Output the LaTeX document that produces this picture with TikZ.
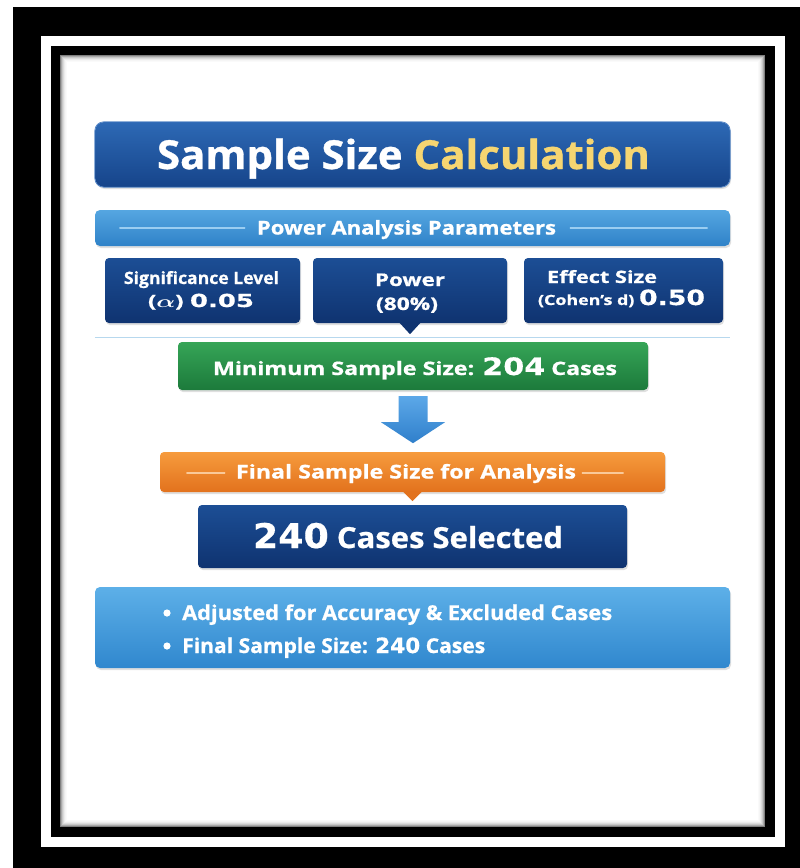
\documentclass[tikz,border=0pt]{standalone}
\usepackage{fontspec}
\setmainfont{Open Sans}[BoldFeatures={FakeBold=0.8}]
\newfontfamily\dv{DejaVu Sans}[BoldFeatures={FakeBold=0.5}]
\usetikzlibrary{calc,shadows}
\definecolor{ttop}{HTML}{2D69B5}
\definecolor{tbot}{HTML}{16448A}
\definecolor{tedge}{HTML}{5586C6}
\definecolor{tyel}{HTML}{F6D571}
\definecolor{htop}{HTML}{55A6E1}
\definecolor{hbot}{HTML}{2F82C8}
\definecolor{hline}{HTML}{9ACDF1}
\definecolor{ntop}{HTML}{1C4E95}
\definecolor{nbot}{HTML}{0F3370}
\definecolor{gtop}{HTML}{36A557}
\definecolor{gbot}{HTML}{1C7A3B}
\definecolor{otop}{HTML}{F69B3D}
\definecolor{obot}{HTML}{E2721D}
\definecolor{oline}{HTML}{FAC999}
\definecolor{atop}{HTML}{5CA8E8}
\definecolor{abot}{HTML}{2F7FCB}
\definecolor{btop}{HTML}{5DB0E8}
\definecolor{bbot}{HTML}{3087CE}
\definecolor{sepc}{HTML}{B7D8EE}
\newcommand\fitto[2]{\resizebox{#1pt}{\height}{#2}}
\newcommand\fs[1]{\fontsize{#1}{#1}\selectfont}
\begin{document}
\begin{tikzpicture}[x=1pt,y=-1pt,
  box/.style={rectangle, inner sep=0pt, rounded corners=#1, draw=none},
  box/.default=5pt,
  sbox/.style={drop shadow={opacity=0.25, shadow xshift=1pt, shadow yshift=-2pt}},
  lbl/.style={inner sep=0pt, anchor=base, text=white, font=\bfseries},
  lblw/.style={inner sep=0pt, anchor=base west, text=white, font=\bfseries},
  navy/.style={top color=ntop, bottom color=nbot},
  hrule/.style={line width=1.2pt, line cap=round}
]
\useasboundingbox (0,0) rectangle (800,868);
% frames
\fill[white] (0,0) rectangle (800,868);
\fill[black] (13,7) rectangle (800,868);
\fill[white] (41,36) rectangle (785,847);
\fill[black] (51,46) rectangle (775,837);
\fill[white] (60,55) rectangle (765,827);
\foreach \i/\c in {0.5/50,1.5/34,2.5/22,3.5/14,4.5/8,5.5/4,6.5/2}{
  \draw[black!\c, line width=1pt] ({60+\i},{55+\i}) rectangle ({765-\i},{827-\i});
}
% title
\node[box=9pt, minimum width=635pt, minimum height=65pt, top color=ttop, bottom color=tbot, sbox] (title) at (412.5,154.5) {};
\draw[tedge, line width=0.8pt, rounded corners=9pt] (title.south west) rectangle (title.north east);
\node[lbl] (ttxt) at (403.5,169) {\fs{40}\fitto{493}{Sample Size \textcolor{tyel}{Calculation}}};
% header
\node[box=5pt, minimum width=635pt, minimum height=36pt, top color=htop, bottom color=hbot, sbox] (hdr) at (412.5,228) {};
\draw[hline, hrule] ($(hdr.west)+(25,0)$) -- ($(hdr.west)+(150,0)$);
\draw[hline, hrule] ($(hdr.east)+(-160,0)$) -- ($(hdr.east)+(-23,0)$);
\node[lbl] (htxt) at (406.5,234.5) {\fs{19}\fitto{299}{Power Analysis Parameters}};
% parameter boxes
\node[box=4pt, minimum width=195pt, minimum height=65pt, navy, sbox] (p1) at (202.5,290.5) {};
\node[box=4pt, minimum width=194pt, minimum height=65pt, navy, sbox] (p2) at (410,290.5) {};
\node[box=4pt, minimum width=199pt, minimum height=65pt, navy, sbox] (p3) at (623.5,290.5) {};
\fill[nbot] ($(p2.south)+(-11,-1)$) -- ($(p2.south)+(11,-1)$) -- ($(p2.south)+(0,11)$) -- cycle;
\node[lbl] (p1a) at (201.5,284) {\fs{17}\fitto{155}{Significance Level}};
\node[lbl] (p1b) at (201,307) {\fitto{106}{\fs{17}({\boldmath$\alpha$}) {\dv\fs{18}0.05}}};
\node[lbl] (p2a) at (410,286) {\fs{17.5}\fitto{70}{Power}};
\node[lbl] (p2b) at (407,310) {\fs{17.5}\fitto{62}{(80\%)}};
\node[lbl] (p3a) at (602,283) {\fs{17}\fitto{110}{Effect Size}};
\node[lbl] (p3b) at (621.5,305) {\fitto{167}{\fs{14}(Cohen’s d) {\dv\fs{21}0.50}}};
% separator
\draw[sepc, line width=1.2pt] ($(p1.south west)+(-10,14)$) coordinate (s1) -- ($(p3.south east)+(7,14)$) coordinate (s2);
% green
\node[box=4pt, minimum width=470pt, minimum height=48pt, top color=gtop, bottom color=gbot, sbox] (grn) at (413,366) {};
\node[lbl] (gtxt) at (415,375) {\fitto{404}{\fs{18.5}Minimum Sample Size: {\dv\fs{24}204} Cases}};
% arrow
\shade[top color=atop, bottom color=abot]
  ($(grn.south)+(-14.5,6)$) -- ($(grn.south)+(14.5,6)$) -- ($(grn.south)+(14.5,32)$) --
  ($(grn.south)+(32,32)$) -- ($(grn.south)+(0,53)$) -- ($(grn.south)+(-32,32)$) --
  ($(grn.south)+(-14.5,32)$) -- cycle;
% orange
\node[box=4pt, minimum width=505pt, minimum height=40pt, top color=otop, bottom color=obot, sbox] (org) at (412.5,472) {};
\draw[oline, hrule] ($(org.west)+(27,1)$) -- ($(org.west)+(65,1)$);
\draw[oline, hrule] ($(org.east)+(-83,1)$) -- ($(org.east)+(-42,1)$);
\fill[obot] ($(org.south)+(-10,-1)$) -- ($(org.south)+(10,-1)$) -- ($(org.south)+(0,9)$) -- cycle;
\node[lbl] (otxt) at (406,478.5) {\fs{19}\fitto{340}{Final Sample Size for Analysis}};
% final
\node[box=4pt, minimum width=429pt, minimum height=63pt, navy, sbox] (fin) at (412.5,536.5) {};
\node[lbl] (ftxt) at (408,548) {\fitto{310}{\fs{29}{\dv\fs{34}240} Cases Selected}};
% bottom box
\node[box=5pt, minimum width=635pt, minimum height=81pt, top color=btop, bottom color=bbot, sbox] (note) at (412.5,627.5) {};
\fill[white] (167,613) circle (3.6);
\fill[white] (167,646) circle (3.6);
\node[lblw] (n1) at (182,620) {\fs{20.5}\fitto{430}{Adjusted for Accuracy \& Excluded Cases}};
\node[lblw] (n2) at (182,653) {\fitto{303}{\fs{20.5}Final Sample Size: {\dv\fs{21}240} Cases}};
\end{tikzpicture}
\end{document}
